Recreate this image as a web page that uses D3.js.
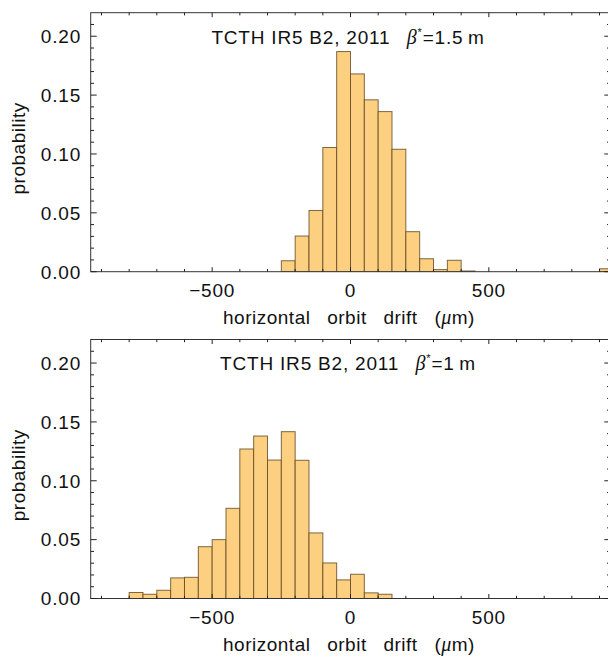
<!DOCTYPE html>
<html><head><meta charset="utf-8">
<script src="https://cdn.jsdelivr.net/npm/d3@7"></script>
<style>
body{margin:0;background:#fff;}
svg{display:block;font-family:"Liberation Sans",Arial,Helvetica,sans-serif;}
</style></head>
<body>
<svg id="chart" width="608" height="658"></svg>
<script>
// ---------------- data ----------------
const binWidth = 50; // µm
const topTitleBeta = "1.5 m";
const topBins = [-250,-200,-150,-100,-50,0,50,100,150,200,250,300,350,400,900];
const topProb = [0.0093,0.0303,0.052,0.1055,0.187,0.168,0.146,0.136,0.104,0.034,0.011,0.0018,0.0097,0.0006,0.0025];
const bottomTitleBeta = "1 m";
const bottomBins = [-800,-750,-700,-650,-600,-550,-500,-450,-400,-350,-300,-250,-200,-150,-100,-50,0,50,100];
const bottomProb = [0.0051,0.0036,0.007,0.0175,0.018,0.044,0.050,0.0766,0.127,0.138,0.1176,0.1417,0.1174,0.0557,0.0302,0.0158,0.0206,0.0048,0.0036];
const xTickLabels = ["\u2212500","0","500"];
const xTickValues = [-500,0,500];
const yTickLabels = ["0.00","0.05","0.10","0.15","0.20"];
const yTickValues = [0,0.05,0.10,0.15,0.20];
const xDomain = [-939, 939];
const yDomain = [0, 0.22];

// ---------------- layout ----------------
const svg = d3.select("#chart");
const left = 90.7, right = 610.3;
const panels = [
  {top: 12.7, bottom: 271.7, bins: topBins, prob: topProb, beta: topTitleBeta},
  {top: 339.5, bottom: 598.5, bins: bottomBins, prob: bottomProb, beta: bottomTitleBeta}
];
const fill = "rgb(252,208,128)";
const edge = "rgba(95,70,30,0.8)";
const frameColor = "#333";
const fs = 19;
const ls = "0.8px";

panels.forEach((p, i) => {
  const x = d3.scaleLinear().domain(xDomain).range([left, right]);
  const y = d3.scaleLinear().domain(yDomain).range([p.bottom, p.top]);
  const g = svg.append("g");
  const clipId = "clip" + i;
  svg.append("defs").append("clipPath").attr("id", clipId)
    .append("rect").attr("x", left).attr("y", p.top).attr("width", right - left).attr("height", p.bottom - p.top);

  // bars
  const data = p.bins.map((b, k) => ({x0: b, x1: b + binWidth, v: p.prob[k]}));
  g.append("g").attr("clip-path", `url(#${clipId})`)
    .selectAll("rect").data(data).join("rect")
    .attr("x", d => x(d.x0))
    .attr("width", d => x(d.x1) - x(d.x0))
    .attr("y", d => y(d.v))
    .attr("height", d => y(0) - y(d.v))
    .attr("fill", fill)
    .attr("stroke", edge)
    .attr("stroke-width", 1);

  // frame
  g.append("rect").attr("x", left).attr("y", p.top).attr("width", right - left).attr("height", p.bottom - p.top)
    .attr("fill", "none").attr("stroke", frameColor).attr("stroke-width", 1);

  // x ticks (bottom and top, pointing inward)
  const xMinor = d3.range(-900, 901, 100);
  const tk = g.append("g").attr("stroke", "#222").attr("stroke-width", 1);
  xMinor.forEach(v => {
    const major = v % 500 === 0;
    const len = major ? 4.5 : 2.7;
    tk.append("line").attr("x1", x(v)).attr("x2", x(v)).attr("y1", p.bottom).attr("y2", p.bottom - len);
    tk.append("line").attr("x1", x(v)).attr("x2", x(v)).attr("y1", p.top).attr("y2", p.top + len);
  });
  // y ticks (left and right)
  const yMinor = d3.range(0, 22).map(k => k / 100);
  yMinor.forEach((v, k) => {
    const major = k % 5 === 0;
    const len = major ? 6 : 3.3;
    tk.append("line").attr("x1", left).attr("x2", left + len).attr("y1", y(v)).attr("y2", y(v));
    tk.append("line").attr("x1", right).attr("x2", right - len).attr("y1", y(v)).attr("y2", y(v));
  });

  // tick labels
  g.selectAll(".xl").data(xTickValues).join("text")
    .attr("x", d => x(d)).attr("y", p.bottom + 25.5)
    .attr("text-anchor", "middle").attr("font-size", fs).attr("fill", "#111")
    .style("letter-spacing", ls)
    .text((d, k) => xTickLabels[k]);
  g.selectAll(".yl").data(yTickValues).join("text")
    .attr("x", 81).attr("y", d => y(d) + 6.8)
    .attr("text-anchor", "end").attr("font-size", fs).attr("fill", "#111")
    .style("letter-spacing", ls)
    .text((d, k) => yTickLabels[k]);

  // y label
  g.append("text").attr("transform", `translate(25,${p.top + 135.7}) rotate(-90)`)
    .attr("text-anchor", "middle").attr("font-size", fs).attr("fill", "#111")
    .style("letter-spacing", "0.5px").text("probability");

  // x label
  const xl = g.append("text").attr("x", 349).attr("y", p.bottom + 52.5)
    .attr("text-anchor", "middle").attr("font-size", fs).attr("fill", "#111")
    .style("letter-spacing", "0.5px")
    .style("word-spacing", "11px");
  xl.append("tspan").text("horizontal orbit drift ");
  xl.append("tspan").text("(").attr("font-weight", "300");
  xl.append("tspan").text("\u03bc").attr("font-family", "Liberation Serif, DejaVu Serif, serif").attr("font-style", "italic").attr("font-size", 20);
  xl.append("tspan").text("m");
  xl.append("tspan").text(")");

  // title
  const t = g.append("text").attr("x", 348).attr("y", p.top + 30.8)
    .attr("text-anchor", "middle").attr("font-size", fs).attr("fill", "#111")
    .style("letter-spacing", ls);
  t.append("tspan").text("TCTH IR5 B2, 2011\u2002 ");
  t.append("tspan").text("\u03b2").attr("font-family", "Liberation Serif, DejaVu Serif, serif").attr("font-style", "italic").attr("font-size", 20);
  t.append("tspan").text("*").attr("font-size", 11).attr("dy", -8);
  t.append("tspan").text("=" + p.beta.replace(" ", "\u2009")).attr("dy", 8);
});
</script>
</body></html>
